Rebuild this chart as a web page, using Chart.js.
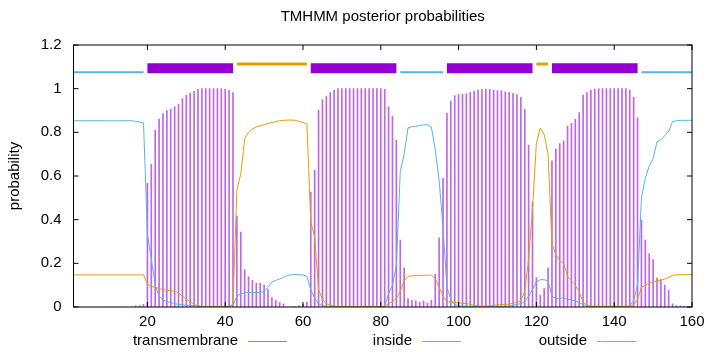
<!DOCTYPE html>
<html>
<head>
<meta charset="utf-8">
<script src="https://cdn.jsdelivr.net/npm/chart.js@4.4.1/dist/chart.umd.min.js"></script>
<style>
    html, body { margin: 0; padding: 0; background: #fff; }
</style>
</head>
<body>
<canvas id="myChart" width="720" height="352"></canvas>
<script>
// posterior probabilities per residue (1..160)
const tmProb = [
    0, 0, 0, 0, 0, 0, 0, 0, 0, 0,
    0, 0, 0, 0, 0, 0, 0.005, 0.007, 0.012, 0.566,
    0.654, 0.81, 0.861, 0.886, 0.9, 0.905, 0.917, 0.928, 0.955, 0.97,
    0.98, 0.988, 0.997, 1, 1, 1, 1, 1, 1, 0.997,
    0.994, 0.982, 0.416, 0.343, 0.171, 0.138, 0.122, 0.11, 0.11, 0.1,
    0.08, 0.043, 0.03, 0.021, 0.015, 0.001, 0.001, 0.002, 0.006, 0.012,
    0.023, 0.526, 0.627, 0.902, 0.95, 0.966, 0.982, 0.994, 1, 1,
    1, 1, 1, 1, 1, 1, 1, 1, 1, 1,
    0.997, 0.917, 0.875, 0.765, 0.306, 0.179, 0.038, 0.03, 0.028, 0.023,
    0.028, 0.018, 0.03, 0.15, 0.317, 0.589, 0.887, 0.943, 0.968, 0.973,
    0.974, 0.976, 0.983, 0.989, 0.994, 0.997, 0.997, 0.997, 0.994, 0.991,
    0.991, 0.986, 0.983, 0.979, 0.973, 0.96, 0.905, 0.742, 0.482, 0.135,
    0.054, 0.084, 0.179, 0.67, 0.723, 0.749, 0.76, 0.829, 0.841, 0.859,
    0.891, 0.971, 0.982, 0.994, 0.998, 1, 1, 1, 1, 1,
    1, 1, 1, 0.994, 0.96, 0.867, 0.398, 0.306, 0.245, 0.217,
    0.133, 0.127, 0.1, 0.076, 0.015, 0.006, 0.005, 0.003, 0.003, 0.002
];

const insideProb = [
    0.853, 0.853, 0.853, 0.853, 0.853, 0.853, 0.853, 0.853, 0.853, 0.853,
    0.853, 0.853, 0.853, 0.853, 0.853, 0.853, 0.85, 0.847, 0.843, 0.33,
    0.22, 0.1, 0.05, 0.033, 0.025, 0.02, 0.016, 0.012, 0.01, 0.008,
    0.007, 0.006, 0.005, 0.003, 0.003, 0.003, 0.003, 0.003, 0.003, 0.003,
    0.004, 0.006, 0.05, 0.06, 0.065, 0.066, 0.066, 0.066, 0.067, 0.07,
    0.09, 0.115, 0.122, 0.128, 0.135, 0.145, 0.148, 0.148, 0.148, 0.147,
    0.14, 0.08, 0.04, 0.015, 0.006, 0.004, 0.002, 0.002, 0.002, 0.002,
    0.002, 0.002, 0.002, 0.002, 0.002, 0.002, 0.002, 0.002, 0.002, 0.002,
    0.005, 0.06, 0.1, 0.19, 0.62, 0.7, 0.82, 0.826, 0.828, 0.832,
    0.834, 0.836, 0.824, 0.72, 0.58, 0.36, 0.09, 0.035, 0.012, 0.006,
    0.004, 0.003, 0.003, 0.003, 0.003, 0.003, 0.003, 0.003, 0.003, 0.003,
    0.003, 0.003, 0.005, 0.008, 0.012, 0.015, 0.025, 0.05, 0.08, 0.115,
    0.125, 0.125, 0.12, 0.05, 0.04, 0.04, 0.042, 0.035, 0.032, 0.028,
    0.02, 0.01, 0.007, 0.003, 0.003, 0.003, 0.003, 0.003, 0.003, 0.003,
    0.003, 0.003, 0.003, 0.004, 0.03, 0.1, 0.5, 0.59, 0.645, 0.68,
    0.757, 0.765, 0.785, 0.805, 0.849, 0.853, 0.855, 0.855, 0.855, 0.855
];

const outsideProb = [
    0.147, 0.147, 0.147, 0.147, 0.147, 0.147, 0.147, 0.147, 0.147, 0.147,
    0.147, 0.147, 0.147, 0.147, 0.147, 0.147, 0.147, 0.147, 0.147, 0.105,
    0.095, 0.089, 0.085, 0.08, 0.077, 0.075, 0.072, 0.065, 0.05, 0.035,
    0.025, 0.012, 0.005, 0.001, 0.001, 0.001, 0.001, 0.001, 0.001, 0.001,
    0.004, 0.012, 0.535, 0.61, 0.77, 0.8, 0.815, 0.825, 0.83, 0.835,
    0.84, 0.845, 0.85, 0.853, 0.855, 0.856, 0.856, 0.855, 0.85, 0.845,
    0.838, 0.39, 0.32, 0.08, 0.035, 0.015, 0.01, 0.005, 0.001, 0.001,
    0.001, 0.001, 0.001, 0.001, 0.001, 0.001, 0.001, 0.001, 0.001, 0.001,
    0.003, 0.015, 0.025, 0.04, 0.07, 0.12, 0.14, 0.143, 0.144, 0.145,
    0.145, 0.146, 0.146, 0.13, 0.09, 0.05, 0.025, 0.022, 0.02, 0.018,
    0.017, 0.015, 0.012, 0.008, 0.005, 0.003, 0.003, 0.005, 0.008, 0.01,
    0.011, 0.012, 0.013, 0.017, 0.022, 0.03, 0.07, 0.22, 0.45, 0.75,
    0.82, 0.79, 0.7, 0.29, 0.24, 0.21, 0.2, 0.14, 0.12, 0.1,
    0.07, 0.02, 0.01, 0.003, 0.003, 0.003, 0.003, 0.003, 0.003, 0.003,
    0.003, 0.003, 0.003, 0.004, 0.01, 0.035, 0.09, 0.1, 0.11, 0.115,
    0.12, 0.122, 0.128, 0.135, 0.145, 0.147, 0.148, 0.148, 0.148, 0.148
];

// predicted topology (start, end residue)
const insideSegs = [[1, 19], [85, 96], [147, 160]];
const outsideSegs = [[43, 61], [120, 123]];
const helixSegs = [[20, 42], [62, 84], [97, 119], [124, 146]];

const xTickVals = [20, 40, 60, 80, 100, 120, 140, 160];
const yTickVals = [0, 0.2, 0.4, 0.6, 0.8, 1, 1.2];

const keyLabels = ['transmembrane', 'inside', 'outside'];

const PURPLE = '#9400d3';
const PURPLE_IMP = 'rgba(148, 0, 211, 0.6)';
const BLUE = '#56b4e9';
const ORANGE = '#e69f00';
const FONT = "'Liberation Sans', Arial, sans-serif";
const FSIZE = 15;

const keyColors = [PURPLE_IMP, BLUE, ORANGE];

Chart.defaults.font.family = FONT;
Chart.defaults.color = '#000';

function toPoints(vals) {
    return vals.map((v, i) => ({ x: i + 1, y: v }));
}

// one line dataset per topology class, segments split by null points
function segPoints(segs, level) {
    const pts = [];
    segs.forEach(s => {
        pts.push({ x: s[0], y: level });
        pts.push({ x: s[1], y: level });
        pts.push({ x: s[1], y: null });
    });
    return pts;
}

// frame with inward tics, like gnuplot
const framePlugin = {
    id: 'frame',
    afterDatasetsDraw(chart) {
        const { ctx, chartArea: a, scales } = chart;
        const tl = 5;
        ctx.save();
        ctx.strokeStyle = '#000';
        ctx.lineWidth = 1;
        ctx.beginPath();
        yTickVals.forEach(v => {
            const y = scales.y.getPixelForValue(v);
            ctx.moveTo(a.left, y); ctx.lineTo(a.left + tl, y);
            ctx.moveTo(a.right, y); ctx.lineTo(a.right - tl, y);
        });
        xTickVals.forEach(v => {
            const x = scales.x.getPixelForValue(v);
            ctx.moveTo(x, a.bottom); ctx.lineTo(x, a.bottom - tl);
            ctx.moveTo(x, a.top); ctx.lineTo(x, a.top + tl);
        });
        ctx.stroke();
        ctx.strokeRect(a.left, a.top, a.right - a.left, a.bottom - a.top);
        ctx.restore();
    }
};

// gnuplot style key: text then sample line
const keyPlugin = {
    id: 'gpKey',
    afterDraw(chart) {
        const { ctx } = chart;
        const textRight = [238, 412, 587];
        const y = 341;
        ctx.save();
        ctx.font = FSIZE + 'px ' + FONT;
        ctx.textAlign = 'right';
        ctx.textBaseline = 'middle';
        keyLabels.forEach((label, i) => {
            ctx.fillStyle = '#000';
            ctx.fillText(label, textRight[i], y);
            ctx.strokeStyle = keyColors[i];
            ctx.lineWidth = 1;
            ctx.beginPath();
            ctx.moveTo(textRight[i] + 10, y + 0.5);
            ctx.lineTo(textRight[i] + 49, y + 0.5);
            ctx.stroke();
        });
        ctx.restore();
    }
};

const ctx = document.getElementById('myChart').getContext('2d');
const myChart = new Chart(ctx, {
    type: 'bar',
    data: {
        datasets: [
            {
                type: 'bar',
                label: keyLabels[0],
                data: toPoints(tmProb),
                backgroundColor: PURPLE_IMP,
                borderWidth: 0,
                barThickness: 1,
                order: 3
            },
            {
                type: 'line',
                label: keyLabels[1],
                data: toPoints(insideProb),
                borderColor: BLUE,
                borderWidth: 1,
                pointRadius: 0,
                tension: 0,
                order: 2
            },
            {
                type: 'line',
                label: keyLabels[2],
                data: toPoints(outsideProb),
                borderColor: ORANGE,
                borderWidth: 1,
                pointRadius: 0,
                tension: 0,
                order: 1
            },
            {
                type: 'line',
                label: 'inside bar',
                data: segPoints(insideSegs, 1.075),
                borderColor: BLUE,
                borderWidth: 2,
                borderCapStyle: 'butt',
                pointRadius: 0,
                spanGaps: false
            },
            {
                type: 'line',
                label: 'outside bar',
                data: segPoints(outsideSegs, 1.113),
                borderColor: ORANGE,
                borderWidth: 3,
                borderCapStyle: 'butt',
                pointRadius: 0,
                spanGaps: false
            },
            {
                type: 'line',
                label: 'helix bar',
                data: segPoints(helixSegs, 1.094),
                borderColor: PURPLE,
                borderWidth: 10,
                borderCapStyle: 'butt',
                pointRadius: 0,
                spanGaps: false
            }
        ]
    },
    options: {
        responsive: false,
        animation: false,
        layout: {
            padding: { left: 0, right: 28, top: 0, bottom: 23 }
        },
        plugins: {
            legend: { display: false },
            tooltip: { enabled: false },
            title: {
                display: true,
                text: 'TMHMM posterior probabilities',
                fullSize: false,
                color: '#000',
                font: { size: FSIZE, weight: 'normal' },
                padding: { top: 8, bottom: 19 }
            }
        },
        scales: {
            x: {
                type: 'linear',
                min: 1,
                max: 160,
                offset: false,
                grid: { display: false, drawTicks: false },
                border: { display: false },
                ticks: {
                    padding: 6,
                    font: { size: FSIZE },
                    color: '#000',
                    maxRotation: 0,
                    callback: v => String(v)
                },
                afterBuildTicks: s => { s.ticks = xTickVals.map(v => ({ value: v })); },
                afterFit: s => { s.height = 22; }
            },
            y: {
                min: 0,
                max: 1.2,
                grid: { display: false, drawTicks: false },
                border: { display: false },
                title: {
                    display: true,
                    text: 'probability',
                    color: '#000',
                    font: { size: FSIZE },
                    padding: { top: 6, bottom: 0 }
                },
                ticks: {
                    padding: 12,
                    font: { size: FSIZE },
                    color: '#000',
                    callback: v => String(v)
                },
                afterBuildTicks: s => { s.ticks = yTickVals.map(v => ({ value: v })); },
                afterFit: s => { s.width = 73.5; }
            }
        }
    },
    plugins: [framePlugin, keyPlugin]
});
</script>
</body>
</html>
